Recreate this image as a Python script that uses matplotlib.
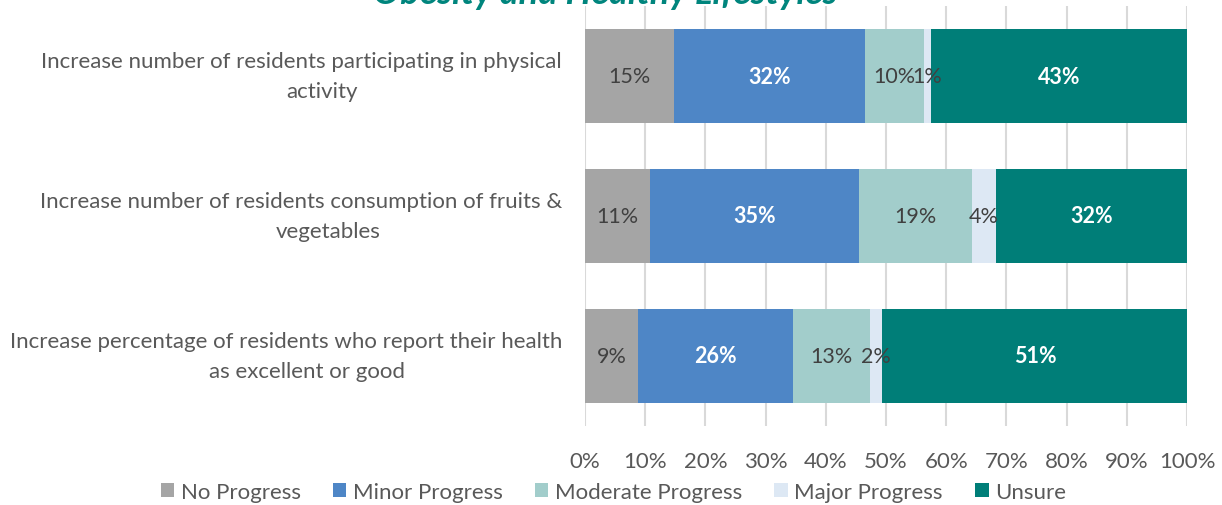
import numpy as np
import matplotlib.pyplot as plt
from matplotlib.patches import Patch
from matplotlib.transforms import blended_transform_factory

plt.rcParams['font.family'] = ['Lato', 'DejaVu Sans']

line1 = ['Increase number of residents participating in physical',
         'Increase number of residents consumption of fruits &',
         'Increase percentage of residents who report their health']
line2 = ['activity', 'vegetables', 'as excellent or good']
series = ['No Progress', 'Minor Progress', 'Moderate Progress', 'Major Progress', 'Unsure']
no_progress = [14.8, 10.8, 8.8]
minor = [31.7, 34.7, 25.8]
moderate = [9.8, 18.8, 12.8]
major = [1.1, 4.0, 2.0]
unsure = [42.6, 31.7, 50.7]
labels = [['15%', '11%', '9%'], ['32%', '35%', '26%'], ['10%', '19%', '13%'],
          ['1%', '4%', '2%'], ['43%', '32%', '51%']]
colors = ['#A5A5A5', '#4E86C6', '#A2CDCB', '#DDE8F4', '#007E78']
txt_colors = ['#404040', 'white', '#404040', '#404040', 'white']
bold = [False, True, False, False, True]

values = [no_progress, minor, moderate, major, unsure]

W, H = 1222, 506
fig = plt.figure(figsize=(W / 100, H / 100), dpi=100)
ax = fig.add_axes([585/W, 1-427/H, 602/W, 420/H])

y = np.arange(len(line1))
left = np.zeros(len(line1))
for i, vals in enumerate(values):
    vals = np.array(vals)
    ax.barh(y, vals, left=left, height=0.665, color=colors[i], zorder=2)
    for j in range(len(y)):
        ax.text(left[j] + vals[j] / 2, y[j], labels[i][j], ha='center', va='center',
                fontsize=15.5, color=txt_colors[i],
                fontweight='bold' if bold[i] else 'normal', zorder=3)
    left += vals

ax.set_xlim(0, 100)
ax.set_ylim(len(y) - 0.5, -0.5)
ax.set_xticks(np.arange(0, 101, 10))
ax.set_xticklabels([f'{t}%' for t in range(0, 101, 10)], fontsize=16, color='#595959')
ax.set_yticks([])
ax.tick_params(axis='x', length=0, pad=18)
ax.grid(axis='x', color='#D9D9D9', linewidth=1.5, zorder=0)
for s in ax.spines.values():
    s.set_visible(False)

# category labels: first line right-aligned, second line centred under it
tr = blended_transform_factory(fig.transFigure, ax.transData)
line2_x = [322, 328, 307]
for j in range(len(y)):
    fig.text(562 / W, y[j] - 0.107, line1[j], transform=tr, ha='right', va='center',
             fontsize=16, color='#595959')
    fig.text(line2_x[j] / W, y[j] + 0.107, line2[j], transform=tr, ha='center', va='center',
             fontsize=16, color='#595959')

# title sits mostly above the top edge, as in the original crop
fig.text(605 / W, 1 - 4 / H, 'Obesity and Healthy Lifestyles', ha='center', va='baseline',
         fontsize=26, fontweight='bold', fontstyle='italic', color='#00857D')

handles = [Patch(facecolor=c, label=s) for c, s in zip(colors, series)]
fig.legend(handles=handles, loc='center', bbox_to_anchor=(0.502, 1 - 493 / H), ncol=5,
           frameon=False, fontsize=16, handlelength=0.6, handleheight=0.6,
           handletextpad=0.3, columnspacing=1.45, labelcolor='#595959')

fig.savefig('out.png', dpi=100)
